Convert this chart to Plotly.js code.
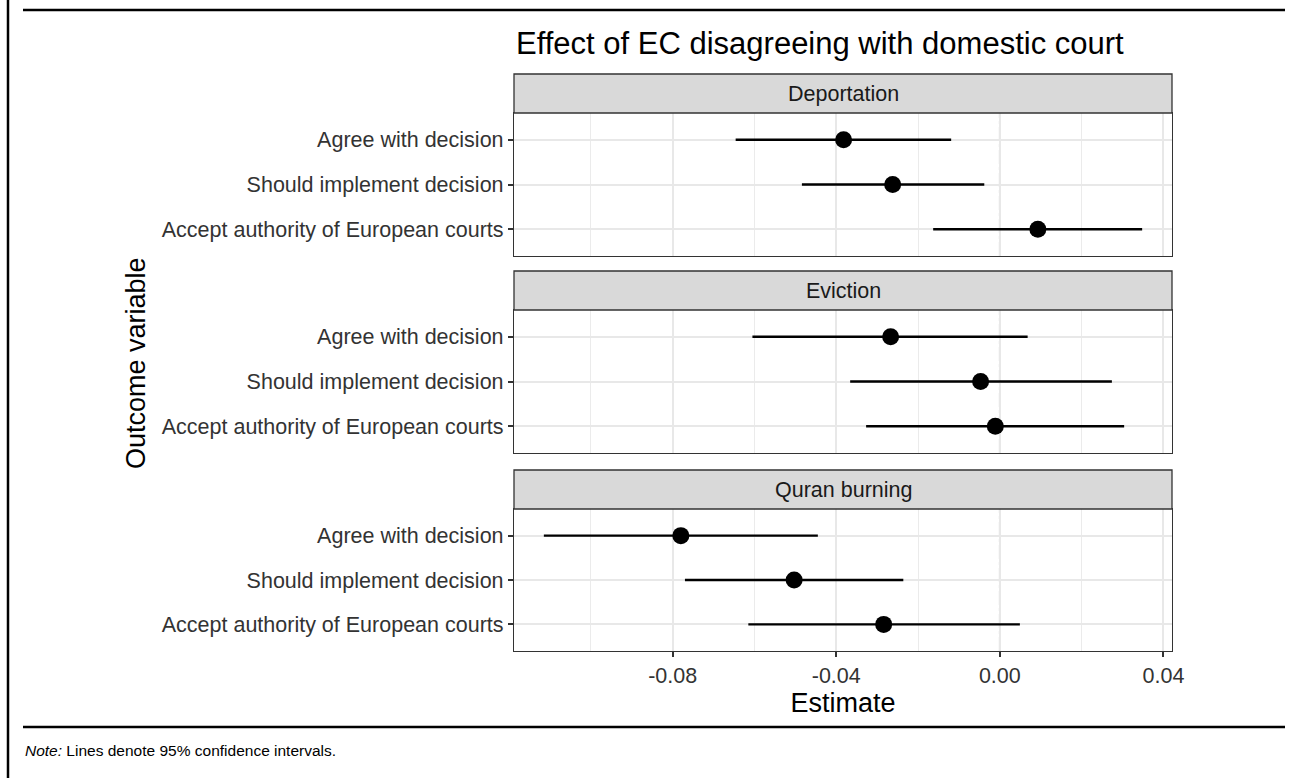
<!DOCTYPE html>
<html>
<head>
<meta charset="utf-8">
<script src="https://cdn.plot.ly/plotly-3.0.1.min.js"></script>
<style>
html,body{margin:0;padding:0;background:#fff;}
#chart{width:1297px;height:778px;}
</style>
</head>
<body>
<div id="chart"></div>
<script>
// ---- data ----
const categories = ['Agree with decision', 'Should implement decision', 'Accept authority of European courts'];
const panels = ['Deportation', 'Eviction', 'Quran burning'];

const estDeportation = [-0.0382, -0.0262, 0.0093];
const loDeportation  = [-0.0646, -0.0484, -0.0163];
const hiDeportation  = [-0.0119, -0.0038, 0.0348];

const estEviction = [-0.0267, -0.0047, -0.0011];
const loEviction  = [-0.0605, -0.0366, -0.0327];
const hiEviction  = [0.0068, 0.0274, 0.0304];

const estQuran = [-0.0780, -0.0503, -0.0284];
const loQuran  = [-0.1115, -0.0770, -0.0615];
const hiQuran  = [-0.0445, -0.0236, 0.0049];

const xTickVals = [-0.08, -0.04, 0.00, 0.04];
const xTickText = ['-0.08', '-0.04', '0.00', '0.04'];
const referenceValue = 0;

const titleText = 'Effect of EC disagreeing with domestic court';
const xTitle = 'Estimate';
const yTitle = 'Outcome variable';
const noteText = '<i>Note:</i> Lines denote 95% confidence intervals.';

// ---- layout helpers ----
const W = 1297, H = 778;
const px = v => v / W;
const py = v => 1 - v / H;
const FONT = 'Liberation Sans, Arial, Helvetica, sans-serif';

const series = [
  {est: estDeportation, lo: loDeportation, hi: hiDeportation},
  {est: estEviction, lo: loEviction, hi: hiEviction},
  {est: estQuran, lo: loQuran, hi: hiQuran}
];
const panelTop = [113, 310, 509];
const panelBot = [256, 453, 651];
const stripH = 39;

const traces = series.map((s, i) => ({
  type: 'scatter',
  mode: 'markers',
  x: s.est,
  y: categories,
  xaxis: i === 0 ? 'x' : 'x' + (i + 1),
  yaxis: i === 0 ? 'y' : 'y' + (i + 1),
  marker: {color: '#000000', size: 17},
  error_x: {
    type: 'data', symmetric: false,
    array: s.hi.map((h, k) => h - s.est[k]),
    arrayminus: s.est.map((e, k) => e - s.lo[k]),
    width: 0, thickness: 2.4, color: '#000000'
  },
  hoverinfo: 'x+y',
  showlegend: false
}));

const layout = {
  width: W, height: H,
  margin: {l: 0, r: 0, t: 0, b: 0},
  paper_bgcolor: '#ffffff',
  plot_bgcolor: '#ffffff',
  font: {family: FONT, color: '#000000'},
  showlegend: false,
  title: {
    text: titleText, x: px(516), xref: 'paper', xanchor: 'left',
    y: py(43), yref: 'paper', yanchor: 'middle',
    font: {family: FONT, size: 31, color: '#000000'}
  },
  shapes: [],
  annotations: []
};

const xRange = [-0.1188, 0.0421];
for (let i = 0; i < 3; i++) {
  const xa = i === 0 ? 'xaxis' : 'xaxis' + (i + 1);
  const ya = i === 0 ? 'yaxis' : 'yaxis' + (i + 1);
  const xr = i === 0 ? 'x' : 'x' + (i + 1);
  const yr = i === 0 ? 'y' : 'y' + (i + 1);
  const isBottom = i === 2;
  layout[xa] = {
    domain: [px(514), px(1172)],
    anchor: yr,
    range: xRange,
    tickmode: 'array', tickvals: xTickVals, ticktext: xTickText,
    showticklabels: isBottom,
    ticks: isBottom ? 'outside' : '',
    ticklen: 5, tickwidth: 1.6, tickcolor: '#333333',
    tickfont: {family: FONT, size: 21.5, color: '#333333'},
    showgrid: true, gridcolor: '#e8e8e8', gridwidth: 2,
    minor: {dtick: 0.02, tick0: 0, showgrid: true, gridcolor: '#ebebeb', gridwidth: 1.2, ticks: ''},
    zeroline: false,
    showline: true, mirror: true, linecolor: '#333333', linewidth: 1.3,
    fixedrange: true
  };
  if (isBottom) {
    layout[xa].title = {text: xTitle, font: {family: FONT, size: 27, color: '#000000'}, standoff: 6};
  }
  layout[ya] = {
    domain: [py(panelBot[i]), py(panelTop[i])],
    anchor: xr,
    type: 'category',
    categoryorder: 'array', categoryarray: categories,
    range: [2.6, -0.6],
    ticks: 'outside', ticklen: 5, tickwidth: 1.6, tickcolor: '#333333',
    tickfont: {family: FONT, size: 21.5, color: '#333333'},
    showgrid: true, gridcolor: '#e8e8e8', gridwidth: 2,
    zeroline: false,
    showline: true, mirror: true, linecolor: '#333333', linewidth: 1.3,
    fixedrange: true
  };
  // reference line at zero
  layout.shapes.push({
    type: 'line', xref: xr, yref: yr + ' domain',
    x0: referenceValue, x1: referenceValue, y0: 0, y1: 1,
    line: {color: '#aaaaaa', width: 1.8, dash: '14px,3px,3px,3px'}, layer: 'below'
  });
  // strip
  const sh = stripH / (panelBot[i] - panelTop[i]);
  layout.shapes.push({
    type: 'rect', xref: xr + ' domain', yref: yr + ' domain',
    x0: 0, x1: 1, y0: 1, y1: 1 + sh,
    fillcolor: '#d9d9d9', line: {color: '#333333', width: 1.3}, layer: 'above'
  });
  layout.annotations.push({
    text: panels[i], xref: xr + ' domain', yref: yr + ' domain',
    x: 0.5, y: 1 + sh / 2, xanchor: 'center', yanchor: 'middle',
    showarrow: false, font: {family: FONT, size: 21.5, color: '#1a1a1a'}
  });
}

// y axis title
layout.annotations.push({
  text: yTitle, xref: 'paper', yref: 'paper',
  x: px(136), y: py(363), xanchor: 'center', yanchor: 'middle',
  textangle: -90, showarrow: false,
  font: {family: FONT, size: 27, color: '#000000'}
});
// note
layout.annotations.push({
  text: noteText, xref: 'paper', yref: 'paper',
  x: px(23), y: py(750), xanchor: 'left', yanchor: 'middle',
  showarrow: false, font: {family: FONT, size: 15.5, color: '#000000'}
});
// frame lines
layout.shapes.push(
  {type: 'line', xref: 'paper', yref: 'paper', x0: px(8), x1: px(8), y0: 0, y1: 1, line: {color: '#000', width: 2.5}},
  {type: 'line', xref: 'paper', yref: 'paper', x0: px(23), x1: px(1285), y0: py(10), y1: py(10), line: {color: '#000', width: 2.5}},
  {type: 'line', xref: 'paper', yref: 'paper', x0: px(23), x1: px(1285), y0: py(727), y1: py(727), line: {color: '#000', width: 2.5}}
);

Plotly.newPlot('chart', traces, layout, {displayModeBar: false, responsive: false, staticPlot: false});
</script>
</body>
</html>
